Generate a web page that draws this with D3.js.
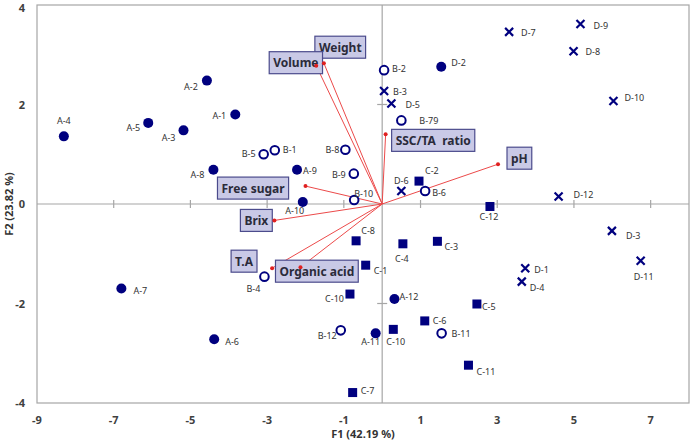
<!DOCTYPE html>
<html>
<head>
<meta charset="utf-8">
<script src="https://cdn.jsdelivr.net/npm/d3@7"></script>
<style>
  body { margin: 0; background: #fff; }
  svg { display: block; }
</style>
</head>
<body>
<div id="chart"></div>
<script>
// ---- data ----
var xTicks = [-9, -7, -5, -3, -1, 1, 3, 5, 7];
var yTicks = [-4, -2, 0, 2, 4];

// filled circles
var dotNames = ["A-1", "A-2", "A-3", "A-4", "A-5", "A-6", "A-7", "A-8", "A-9", "A-10", "A-11", "A-12", "D-2"];
var dotF1 = [-3.83, -4.57, -5.18, -8.30, -6.10, -4.38, -6.80, -4.40, -2.22, -2.07, -0.17, 0.32, 1.54];
var dotF2 = [1.80, 2.48, 1.48, 1.36, 1.63, -2.72, -1.70, 0.69, 0.69, 0.04, -2.60, -1.91, 2.76];

// open circles
var ringNames = ["B-1", "B-2", "B-4", "B-5", "B-6", "B-8", "B-9", "B-10", "B-11", "B-12", "B-79"];
var ringF1 = [-2.80, 0.05, -3.07, -3.09, 1.12, -0.96, -0.74, -0.73, 1.55, -1.08, 0.50];
var ringF2 = [1.08, 2.69, -1.46, 1.00, 0.26, 1.09, 0.61, 0.08, -2.60, -2.54, 1.68];

// squares
var squareNames = ["C-1", "C-2", "C-3", "C-4", "C-5", "C-6", "C-7", "C-8", "C-10", "C-10", "C-11", "C-12"];
var squareF1 = [-0.43, 0.96, 1.44, 0.54, 2.47, 1.11, -0.77, -0.68, -0.84, 0.29, 2.25, 2.81];
var squareF2 = [-1.23, 0.46, -0.75, -0.80, -2.01, -2.35, -3.79, -0.74, -1.81, -2.52, -3.24, -0.05];

// crosses
var crossNames = ["D-1", "D-3", "D-4", "D-5", "D-6", "D-7", "D-8", "D-9", "D-10", "D-11", "D-12", "B-3"];
var crossF1 = [3.73, 5.99, 3.64, 0.24, 0.50, 3.31, 4.99, 5.17, 6.03, 6.74, 4.60, 0.05];
var crossF2 = [-1.29, -0.54, -1.56, 2.02, 0.26, 3.46, 3.07, 3.62, 2.07, -1.14, 0.15, 2.27];

// variable vectors
var varNames = ["Weight", "Volume", "SSC/TA  ratio", "pH", "Free sugar", "Brix", "T.A", "Organic acid"];
var varF1 = [-1.52, -1.72, 0.09, 3.02, -2.00, -2.81, -2.87, -2.13];
var varF2 = [2.83, 2.78, 1.40, 0.80, 0.36, -0.33, -1.29, -1.27];

// ---- layout (label placement, pixels) ----
var dotLab = [[-9, 5, "end"], [-9, 9, "end"], [-8, 11, "end"], [0, -12, "middle"], [-8, 8, "end"], [11, 6, "start"],
  [12, 5, "start"], [-9, 8, "end"], [6, 4, "start"], [-8, 12, "middle"], [-5, 12, "middle"], [5, 1, "start"], [10, -1, "start"]];
var ringLab = [[8, 3, "start"], [8, 2, "start"], [-11, 15, "middle"], [-8, 3, "end"], [7, 5, "start"], [-6, 3, "end"],
  [-8, 4, "end"], [0, -3, "start"], [10, 4, "start"], [-4, 9, "end"], [18, 4, "start"]];
var squareLab = [[8, 9, "start"], [6, -7, "start"], [7, 9, "start"], [-1, 18, "middle"], [5, 6, "start"], [8, 3, "start"],
  [8, 1, "start"], [12, -7, "middle"], [-6, 8, "end"], [-7, 16, "start"], [8, 10, "start"], [-1, 14, "middle"]];
var crossLab = [[9, 5, "start"], [14, 8, "start"], [8, 9, "start"], [14, 4, "start"], [0, -7, "middle"], [12, 4, "start"],
  [12, 4, "start"], [13, 5, "start"], [11, 0, "start"], [3, 19, "middle"], [15, 1, "start"], [9, 4, "start"]];
var varBox = [[-9, -27], [-47, -14], [6, -5], [9, -17], [-88, -9], [-34, -11], [-41, -18], [-25, -7]];

var W = 693, H = 441;
var navy = "#00007f";

var svg = d3.select("#chart").append("svg")
  .attr("width", W).attr("height", H)
  .style("font-family", "'Noto Sans', 'Open Sans', sans-serif");

var x = d3.scaleLinear().domain([-9, 8]).range([37, 689]);
var y = d3.scaleLinear().domain([-4, 4]).range([403, 5]);

// frame
svg.append("rect")
  .attr("x", x(-9)).attr("y", y(4))
  .attr("width", x(8) - x(-9)).attr("height", y(-4) - y(4))
  .attr("fill", "none").attr("stroke", "#a6a6a6").attr("stroke-width", 1.2);

// zero lines
svg.append("line")
  .attr("x1", x(-9)).attr("x2", x(8)).attr("y1", y(0)).attr("y2", y(0))
  .attr("stroke", "#a6a6a6").attr("stroke-width", 1.2);
svg.append("line")
  .attr("x1", x(0)).attr("x2", x(0)).attr("y1", y(4)).attr("y2", y(-4))
  .attr("stroke", "#a6a6a6").attr("stroke-width", 1.2);

// ticks across the zero lines
svg.append("g").selectAll("line")
  .data(xTicks.filter(d => d > -9))
  .join("line")
  .attr("x1", d => x(d)).attr("x2", d => x(d))
  .attr("y1", y(0) - 4).attr("y2", y(0) + 4)
  .attr("stroke", "#a6a6a6").attr("stroke-width", 1.2);
svg.append("g").selectAll("line")
  .data(yTicks.filter(d => d != 0 && Math.abs(d) < 4))
  .join("line")
  .attr("x1", x(0) - 5).attr("x2", x(0) + 5)
  .attr("y1", d => y(d)).attr("y2", d => y(d))
  .attr("stroke", "#a6a6a6").attr("stroke-width", 1.2);

// tick labels
svg.append("g").selectAll("text")
  .data(xTicks)
  .join("text")
  .attr("x", d => x(d)).attr("y", 424)
  .attr("text-anchor", "middle")
  .attr("font-size", 11).attr("font-weight", "bold").attr("fill", "#404040")
  .text(d => d);
svg.append("g").selectAll("text")
  .data(yTicks)
  .join("text")
  .attr("x", 25).attr("y", d => Math.max(y(d) + 4, 12))
  .attr("text-anchor", "end")
  .attr("font-size", 11).attr("font-weight", "bold").attr("fill", "#404040")
  .text(d => d);

// axis titles
svg.append("text")
  .attr("x", 363).attr("y", 438)
  .attr("text-anchor", "middle")
  .attr("font-size", 11).attr("font-weight", "bold").attr("fill", "#333")
  .text("F1 (42.19 %)");
svg.append("text")
  .attr("transform", "translate(13," + y(0) + ") rotate(-90)")
  .attr("text-anchor", "middle")
  .attr("font-size", 11).attr("font-weight", "bold").attr("fill", "#333")
  .text("F2 (23.82 %)");

// vectors
var vars = varNames.map((n, i) => ({ name: n, f1: varF1[i], f2: varF2[i], box: varBox[i] }));
svg.append("g").selectAll("line")
  .data(vars)
  .join("line")
  .attr("x1", x(0)).attr("y1", y(0))
  .attr("x2", d => x(d.f1)).attr("y2", d => y(d.f2))
  .attr("stroke", "#ec4a4a").attr("stroke-width", 1);

var boxes = svg.append("g").selectAll("g")
  .data(vars)
  .join("g")
  .attr("transform", d => "translate(" + (x(d.f1) + d.box[0]) + "," + (y(d.f2) + d.box[1]) + ")");
var boxRect = boxes.append("rect")
  .attr("height", 22)
  .attr("fill", "#c9c9e6").attr("stroke", "#4b4b8c").attr("stroke-width", 1.2);
var boxText = boxes.append("text")
  .attr("x", 4).attr("y", 15.5)
  .attr("font-size", 12).attr("font-weight", "bold").attr("fill", "#2b2b3a")
  .style("white-space", "pre")
  .text(d => d.name);
boxText.each(function (d) { d.tw = this.getComputedTextLength(); });
boxRect.attr("width", d => d.tw + 8);

svg.append("g").selectAll("circle")
  .data(vars)
  .join("circle")
  .attr("cx", d => x(d.f1)).attr("cy", d => y(d.f2))
  .attr("r", 2).attr("fill", "#e02020");

// observations
function rows(names, f1, f2, lab) {
  return names.map((n, i) => ({ name: n, f1: f1[i], f2: f2[i], lab: lab[i] }));
}
var dots = rows(dotNames, dotF1, dotF2, dotLab);
var rings = rows(ringNames, ringF1, ringF2, ringLab);
var squares = rows(squareNames, squareF1, squareF2, squareLab);
var crosses = rows(crossNames, crossF1, crossF2, crossLab);

var marks = svg.append("g");
marks.selectAll("circle.dot")
  .data(dots)
  .join("circle").attr("class", "dot")
  .attr("cx", d => x(d.f1)).attr("cy", d => y(d.f2))
  .attr("r", 5).attr("fill", navy);
marks.selectAll("circle.ring")
  .data(rings)
  .join("circle").attr("class", "ring")
  .attr("cx", d => x(d.f1)).attr("cy", d => y(d.f2))
  .attr("r", 4.3).attr("fill", "#fff").attr("stroke", navy).attr("stroke-width", 2);
marks.selectAll("rect.sq")
  .data(squares)
  .join("rect").attr("class", "sq")
  .attr("x", d => x(d.f1) - 4.5).attr("y", d => y(d.f2) - 4.5)
  .attr("width", 9).attr("height", 9).attr("fill", navy);
marks.selectAll("path.cross")
  .data(crosses)
  .join("path").attr("class", "cross")
  .attr("d", d => {
    var cx = x(d.f1), cy = y(d.f2), s = 4;
    return "M" + (cx - s) + "," + (cy - s) + "L" + (cx + s) + "," + (cy + s) +
      "M" + (cx - s) + "," + (cy + s) + "L" + (cx + s) + "," + (cy - s);
  })
  .attr("stroke", navy).attr("stroke-width", 2.2).attr("fill", "none");

// point labels
var all = dots.concat(rings, squares, crosses);
svg.append("g").selectAll("text")
  .data(all)
  .join("text")
  .attr("x", d => x(d.f1) + d.lab[0])
  .attr("y", d => y(d.f2) + d.lab[1])
  .attr("text-anchor", d => d.lab[2])
  .attr("font-size", 9).attr("fill", "#333")
  .text(d => d.name);
</script>
</body>
</html>
